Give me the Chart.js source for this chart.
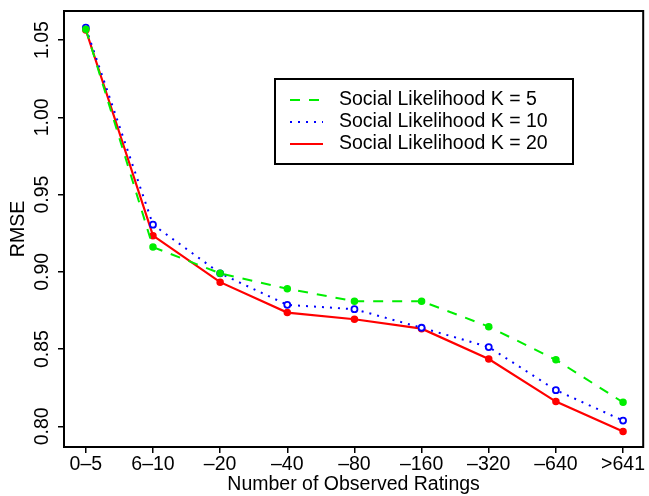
<!DOCTYPE html>
<html lang="en">
<head>
<meta charset="UTF-8">
<title>RMSE vs number of observed ratings</title>
<style>
  body { margin: 0; background: #fff; }
  #wrap { width: 649px; height: 496px; }
</style>
</head>
<body>
<div id="wrap"><canvas id="myChart" width="649" height="496"></canvas></div>
<script src="https://cdn.jsdelivr.net/npm/chart.js@4/dist/chart.umd.min.js"></script>
<script>
// values
const categories = ['0–5', '6–10', '–20', '–40', '–80', '–160', '–320', '–640', '>641'];
const k5  = [1.057, 0.916, 0.899, 0.889, 0.881, 0.881, 0.8645, 0.843, 0.8155];
const k10 = [1.058, 0.9305, 0.899, 0.8786, 0.8758, 0.8638, 0.8513, 0.8234, 0.8037];
const k20 = [1.0565, 0.9234, 0.8933, 0.8736, 0.8693, 0.8632, 0.8435, 0.816, 0.7966];
const yTicks = [0.80, 0.85, 0.90, 0.95, 1.00, 1.05];
const labels = ['Social Likelihood K = 5', 'Social Likelihood K = 10', 'Social Likelihood K = 20'];

const FONT = '"Liberation Sans", Arial, Helvetica, sans-serif';
const FSIZE = 19.5;

function pts(arr) {
    return arr.map((v, i) => ({ x: i, y: v }));
}

// box, rotated y labels, axis titles and the legend, R style
const frame = {
    id: 'frame',
    afterDraw(chart) {
        const ctx = chart.ctx;
        const a = chart.chartArea;
        const y = chart.scales.y;
        ctx.save();
        ctx.lineWidth = 2;
        ctx.strokeStyle = '#000';
        ctx.strokeRect(a.left, a.top, a.right - a.left, a.bottom - a.top);

        ctx.fillStyle = '#000';
        ctx.font = FSIZE + 'px ' + FONT;
        ctx.textAlign = 'center';
        ctx.textBaseline = 'middle';
        yTicks.forEach(v => {
            ctx.save();
            ctx.translate(43, y.getPixelForValue(v));
            ctx.rotate(-Math.PI / 2);
            ctx.fillText(v.toFixed(2), 0, 0);
            ctx.restore();
        });

        ctx.save();
        ctx.translate(19, (a.top + a.bottom) / 2);
        ctx.rotate(-Math.PI / 2);
        ctx.fillText('RMSE', 0, 0);
        ctx.restore();

        ctx.fillText('Number of Observed Ratings', (a.left + a.right) / 2, 485);

        // legend
        ctx.lineWidth = 2;
        ctx.strokeRect(275, 79, 298, 85);
        const rows = [100, 122, 144];
        chart.data.datasets.forEach((ds, i) => {
            ctx.save();
            ctx.strokeStyle = ds.borderColor;
            ctx.lineWidth = ds.borderWidth;
            ctx.setLineDash(ds.borderDash || []);
            ctx.beginPath();
            ctx.moveTo(290, rows[i]);
            ctx.lineTo(323, rows[i]);
            ctx.stroke();
            ctx.restore();
            ctx.textAlign = 'left';
            ctx.fillText(ds.label, 339, rows[i]);
        });
        ctx.restore();
    }
};

new Chart('myChart', {
    type: 'line',
    data: {
        datasets: [
            {
                label: labels[0],
                data: pts(k5),
                borderColor: '#00ee00',
                backgroundColor: '#00ee00',
                borderWidth: 2,
                borderDash: [10, 9],
                pointRadius: 3,
                pointBorderWidth: 1.5,
                pointBackgroundColor: '#00ee00'
            },
            {
                label: labels[1],
                data: pts(k10),
                borderColor: '#0000ff',
                backgroundColor: '#0000ff',
                borderWidth: 2,
                borderDash: [2, 6],
                pointRadius: 3,
                pointBorderWidth: 1.8,
                pointBackgroundColor: '#ffffff'
            },
            {
                label: labels[2],
                data: pts(k20),
                borderColor: '#ff0000',
                backgroundColor: '#ff0000',
                borderWidth: 2.2,
                pointRadius: 3,
                pointBorderWidth: 1.5,
                pointBackgroundColor: '#ff0000'
            }
        ]
    },
    options: {
        responsive: false,
        animation: false,
        layout: { padding: { top: 11, right: 2, left: 0, bottom: 0 } },
        plugins: { legend: { display: false }, tooltip: { enabled: false } },
        scales: {
            x: {
                type: 'linear',
                min: -0.325,
                max: 8.3,
                afterBuildTicks: s => { s.ticks = categories.map((c, i) => ({ value: i })); },
                afterFit: s => { s.height = 49; },
                ticks: {
                    autoSkip: false,
                    maxRotation: 0,
                    color: '#000',
                    padding: 0,
                    font: { size: FSIZE, family: FONT },
                    callback: v => categories[v]
                },
                grid: { drawOnChartArea: false, drawTicks: true, tickLength: 6, color: '#000', lineWidth: 1.5 },
                border: { display: true, color: '#000', width: 2 }
            },
            y: {
                min: 0.7866,
                max: 1.0688,
                afterBuildTicks: s => { s.ticks = yTicks.map(v => ({ value: v })); },
                afterFit: s => { s.width = 64; },
                ticks: { display: false },
                grid: { drawOnChartArea: false, drawTicks: true, tickLength: 6, color: '#000', lineWidth: 1.5 },
                border: { display: true, color: '#000', width: 2 }
            }
        }
    },
    plugins: [frame]
});
</script>
</body>
</html>
